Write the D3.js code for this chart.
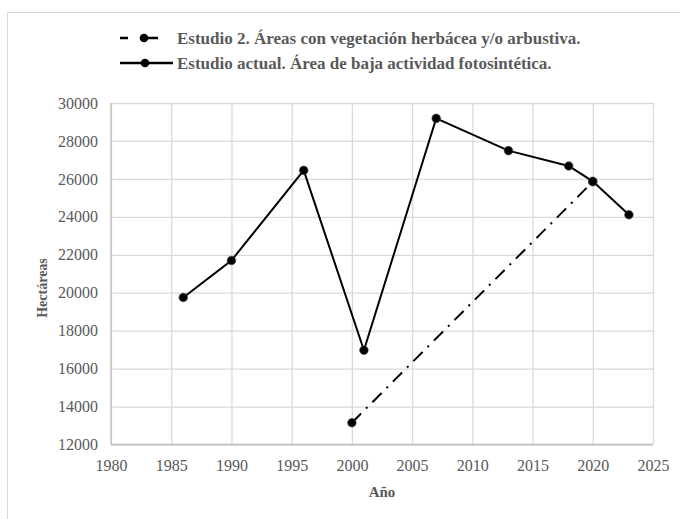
<!DOCTYPE html>
<html>
<head>
<meta charset="utf-8">
<script src="https://cdn.jsdelivr.net/npm/d3@7"></script>
<style>
  body { margin: 0; background: #fff; }
  text { font-family: "Liberation Serif", "DejaVu Serif", serif; fill: #595959; }
</style>
</head>
<body>
<script>
// data
var yearsEst2 = [2000, 2020],
    valsEst2 = [13150, 25850],
    yearsActual = [1986, 1990, 1996, 2001, 2007, 2013, 2018, 2020, 2023],
    valsActual = [19750, 21700, 26450, 16970, 29190, 27490, 26680, 25870, 24110],
    xTicks = [1980, 1985, 1990, 1995, 2000, 2005, 2010, 2015, 2020, 2025],
    yTicks = [12000, 14000, 16000, 18000, 20000, 22000, 24000, 26000, 28000, 30000],
    seriesNames = ["Estudio 2. Áreas con vegetación herbácea y/o arbustiva.",
                   "Estudio actual. Área de baja actividad fotosintética."];

var width = 680, height = 519,
    margin = {left:111, top:103, right:27, bottom:74.5},
    plotW = width - margin.left - margin.right,
    plotH = height - margin.top - margin.bottom,
    dashDot = "13,7,2,7";

var svg = d3.select("body").append("svg")
            .attr("width", width).attr("height", height);

// outer chart frame
svg.append("rect").attr("x", 7.5).attr("y", 12.5)
   .attr("width", 700).attr("height", 520)
   .attr("fill", "none").attr("stroke", "#d9d9d9");

var x = d3.scaleLinear().domain([1980, 2025]).range([0, plotW]),
    y = d3.scaleLinear().domain([12000, 30000]).range([plotH, 0]);

var chartGroup = svg.append("g")
      .attr("transform", "translate(" + margin.left + "," + margin.top + ")");

// grid + axes
var xAxis = d3.axisBottom(x).tickValues(xTicks).tickFormat(d3.format("d"))
              .tickSize(-plotH).tickPadding(15),
    yAxis = d3.axisLeft(y).tickValues(yTicks).tickFormat(d3.format("d"))
              .tickSize(-plotW).tickPadding(13);

var gx = chartGroup.append("g").attr("transform", "translate(0," + plotH + ")").call(xAxis);
var gy = chartGroup.append("g").call(yAxis);
[gx, gy].forEach(function(g){
  g.select(".domain").remove();
  g.selectAll("line").attr("stroke", "#d9d9d9").attr("stroke-width", 1.3);
  g.selectAll("text").attr("font-size", 16).attr("fill", "#595959");
});
// axis base lines slightly darker
chartGroup.append("line").attr("x1", 0).attr("x2", plotW)
  .attr("y1", plotH).attr("y2", plotH).attr("stroke", "#bfbfbf").attr("stroke-width", 1.3);
chartGroup.append("line").attr("x1", 0).attr("x2", 0)
  .attr("y1", 0).attr("y2", plotH).attr("stroke", "#bfbfbf").attr("stroke-width", 1.3);

// series
var line = d3.line().x(function(d){ return x(d[0]); }).y(function(d){ return y(d[1]); });
var est2 = d3.zip(yearsEst2, valsEst2),
    actual = d3.zip(yearsActual, valsActual);

chartGroup.append("path").datum(est2).attr("d", line)
  .attr("fill", "none").attr("stroke", "#000").attr("stroke-width", 2)
  .attr("stroke-dasharray", dashDot);
chartGroup.selectAll(".m2").data(est2).enter().append("circle")
  .attr("cx", function(d){ return x(d[0]); }).attr("cy", function(d){ return y(d[1]); })
  .attr("r", 4.3).attr("fill", "#000").attr("stroke", "#444").attr("stroke-width", 0.6);

chartGroup.append("path").datum(actual).attr("d", line)
  .attr("fill", "none").attr("stroke", "#000").attr("stroke-width", 2);
chartGroup.selectAll(".m1").data(actual).enter().append("circle")
  .attr("cx", function(d){ return x(d[0]); }).attr("cy", function(d){ return y(d[1]); })
  .attr("r", 4.3).attr("fill", "#000").attr("stroke", "#444").attr("stroke-width", 0.6);

// axis titles
svg.append("text").attr("x", margin.left + plotW / 2).attr("y", 497)
   .attr("text-anchor", "middle").attr("font-size", 15).attr("font-weight", "bold")
   .text("Año");
svg.append("text").attr("transform", "translate(47,288) rotate(-90)")
   .attr("text-anchor", "middle").attr("font-size", 14).attr("font-weight", "bold")
   .text("Hectáreas");

// legend
var legend = svg.append("g");
legend.append("line").attr("x1", 120).attr("x2", 170).attr("y1", 38).attr("y2", 38)
  .attr("stroke", "#000").attr("stroke-width", 2.5).attr("stroke-dasharray", "8,12,18,100");
legend.append("circle").attr("cx", 144).attr("cy", 38).attr("r", 4.3).attr("fill", "#000");
legend.append("line").attr("x1", 120).attr("x2", 173).attr("y1", 63).attr("y2", 63)
  .attr("stroke", "#000").attr("stroke-width", 2.5);
legend.append("circle").attr("cx", 145).attr("cy", 63).attr("r", 4.3).attr("fill", "#000");
legend.selectAll(".lt").data(seriesNames).enter().append("text")
  .attr("x", 177).attr("y", function(d, i){ return 44 + i * 24.5; })
  .attr("font-size", 17).attr("font-weight", "bold")
  .text(function(d){ return d; });
</script>
</body>
</html>
